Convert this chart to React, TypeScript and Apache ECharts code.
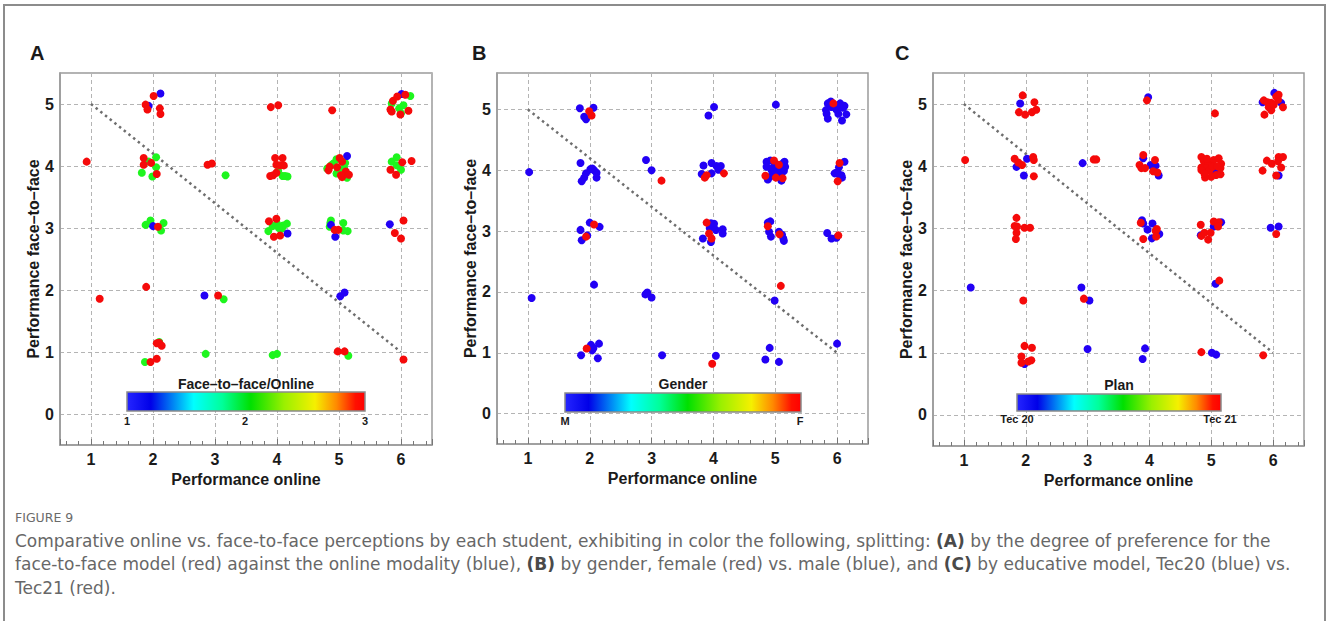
import React, { useEffect, useRef } from "react";
import * as echarts from "echarts";

// ---------- data ----------
const xAxisTitle = "Performance online";
const yAxisTitle = "Performance face–to–face";
const panelLetters = ["A", "B", "C"];
const diagX = [1, 6];
const diagY = [5, 1];

// Panel A: preference Face-to-face/Online (1 = blue, 2 = green, 3 = red)
const aGreen = [
  [6.15, 5.13], [5.85, 5.01], [5.97, 4.93], [6.04, 4.98], [6.0, 4.85],
  [1.93, 4.07], [2.05, 4.14], [2.05, 3.98], [1.82, 3.89], [1.99, 3.83], [3.17, 3.85],
  [4.02, 3.92], [4.09, 3.84], [4.17, 3.83], [4.13, 3.84],
  [4.81, 3.96], [4.87, 4.01], [4.96, 4.11], [4.91, 4.04], [5.08, 3.98], [5.02, 3.88],
  [5.13, 3.81], [4.96, 3.88], [4.99, 3.93], [5.1, 4.05],
  [5.85, 4.07], [5.93, 4.14], [5.93, 4.01], [6.0, 3.94],
  [1.88, 3.05], [1.96, 3.12], [2.17, 3.08], [2.13, 2.96],
  [3.93, 3.03], [4.0, 3.07], [4.05, 3.02], [4.1, 3.04], [4.16, 3.07], [3.86, 2.95], [4.08, 2.99], [4.03, 3.0],
  [4.87, 3.12], [4.85, 3.02], [5.07, 3.08], [5.07, 2.96], [5.14, 2.95], [4.86, 3.08],
  [3.14, 1.85],
  [2.1, 1.16], [1.87, 0.84], [2.85, 0.97], [3.93, 0.95], [4.0, 0.97], [5.15, 0.94],
];
const aBlue = [
  [2.12, 5.17], [1.93, 4.97], [6.01, 5.16], [5.13, 4.16], [2.0, 3.03], [4.17, 2.91],
  [4.87, 3.05], [4.94, 2.86], [5.82, 3.06], [2.83, 1.91], [5.02, 1.9], [5.09, 1.96],
];
const aRed = [
  [2.01, 5.13], [1.88, 4.99], [1.91, 4.91], [2.11, 4.93], [2.12, 4.84], [3.9, 4.95], [4.02, 4.98],
  [4.89, 4.9], [5.87, 5.05], [5.94, 5.12], [6.07, 5.15], [5.83, 4.91], [5.85, 4.88], [5.99, 4.83], [6.12, 4.89],
  [0.93, 4.07], [1.85, 4.13], [1.85, 4.02], [1.97, 4.05], [2.06, 3.87], [2.88, 4.02], [2.95, 4.04],
  [3.97, 4.13], [4.09, 4.13], [3.99, 4.02], [4.05, 4.01], [4.11, 4.01], [3.89, 3.84], [3.94, 3.85], [3.99, 3.89],
  [4.83, 3.93], [5.01, 4.13], [5.05, 4.07], [4.97, 3.98], [5.11, 3.91], [5.05, 3.82], [5.16, 3.86], [4.85, 3.99], [5.03, 3.85],
  [6.02, 4.06], [6.17, 4.08], [5.83, 3.94], [5.92, 3.86],
  [2.08, 3.02], [3.87, 3.11], [3.99, 3.15], [3.95, 2.86], [4.05, 2.88], [4.93, 2.97], [4.99, 2.97],
  [6.04, 3.12], [5.9, 2.92], [6.0, 2.83],
  [1.14, 1.86], [1.89, 2.05], [3.05, 1.91],
  [2.06, 1.14], [2.1, 1.15], [2.14, 1.1], [2.06, 0.89], [1.96, 0.84], [4.98, 1.01], [5.09, 1.01], [6.04, 0.88],
];

// Panel B: gender (M = blue, F = red)
const bBlue = [
  [1.84, 5.02], [2.06, 5.03], [1.91, 4.88], [1.94, 4.84], [4.01, 5.04], [3.92, 4.9], [5.01, 5.08],
  [5.85, 5.1], [5.9, 5.13], [5.98, 5.04], [6.05, 5.1], [6.1, 5.03], [6.15, 4.92], [6.08, 4.82], [5.82, 4.99],
  [5.83, 4.93], [5.85, 4.85], [6.02, 4.93], [5.99, 5.0], [6.04, 5.04], [5.91, 5.04], [6.12, 5.06],
  [1.02, 3.97], [1.85, 4.12], [2.01, 4.02], [2.07, 4.0], [2.11, 3.96], [2.11, 3.88], [1.94, 3.95], [1.91, 3.88],
  [1.87, 3.82], [2.04, 4.03], [2.91, 4.17], [3.0, 4.0], [3.84, 4.08], [3.97, 4.12], [4.05, 4.07], [4.12, 4.07],
  [4.08, 4.01], [3.81, 3.94], [3.97, 3.95],
  [4.86, 4.14], [4.92, 4.16], [5.0, 4.1], [5.05, 4.05], [5.13, 4.12], [5.16, 4.06], [5.07, 3.98], [5.14, 3.99],
  [4.86, 4.06], [4.94, 4.0], [4.99, 3.95], [4.91, 3.89], [4.88, 3.85], [5.1, 3.83], [5.02, 3.89], [5.15, 4.14],
  [4.96, 4.04], [5.08, 3.92],
  [6.12, 4.14], [6.03, 4.05], [5.96, 3.95], [6.02, 3.94], [6.07, 3.92], [6.08, 3.88], [5.99, 3.96],
  [1.85, 3.02], [2.0, 3.14], [2.16, 3.07], [1.96, 2.93], [1.87, 2.85], [3.96, 3.13], [4.01, 3.12], [3.94, 3.05],
  [4.04, 3.02], [4.15, 3.03], [4.15, 2.96], [3.96, 2.82], [3.83, 2.88], [4.88, 3.14], [4.92, 3.16], [4.9, 2.99],
  [4.93, 2.91], [5.06, 2.99], [5.11, 2.94], [5.13, 2.88], [5.14, 2.84], [5.84, 2.97], [5.91, 2.88], [5.99, 2.89],
  [2.07, 2.12], [1.06, 1.9], [2.9, 1.96], [2.93, 1.99], [3.0, 1.91], [4.99, 1.86],
  [2.15, 1.15], [2.02, 1.13], [2.04, 1.04], [2.06, 1.08], [1.86, 0.96], [2.13, 0.91], [3.17, 0.96], [4.04, 0.95],
  [4.91, 1.08], [4.84, 0.89], [5.06, 0.85], [6.0, 1.15],
];
const bRed = [
  [1.99, 4.97], [2.03, 4.9], [5.94, 5.1], [3.16, 3.83], [3.89, 3.92], [3.86, 3.88], [4.17, 3.95], [4.98, 4.16],
  [5.06, 4.09], [4.84, 3.91], [5.01, 3.88], [5.12, 3.87], [6.04, 4.12], [6.01, 3.82], [2.07, 3.11], [1.94, 2.91],
  [3.89, 3.14], [3.93, 2.96], [3.97, 2.88], [4.88, 3.08], [5.07, 2.95], [6.02, 2.93], [5.09, 2.1], [1.95, 1.07],
  [3.98, 0.82],
];

// Panel C: plan (Tec 20 = blue, Tec 21 = red)
const cBlue = [
  [1.91, 5.01], [3.98, 5.11], [5.83, 5.03], [6.02, 5.18], [6.13, 5.02], [1.85, 3.99], [2.02, 4.12], [1.97, 3.85],
  [2.92, 4.05], [3.9, 4.13], [4.02, 4.02], [4.1, 4.01], [4.15, 3.85], [5.05, 3.91], [5.11, 3.95], [4.86, 3.98],
  [6.09, 3.85], [3.88, 3.13], [3.9, 3.08], [4.05, 3.08], [3.97, 2.98], [4.16, 2.91], [4.04, 2.84], [5.04, 3.03],
  [5.16, 3.1], [4.83, 2.89], [5.96, 3.01], [6.09, 3.03], [1.11, 2.05], [2.9, 2.05], [3.03, 1.84], [5.07, 2.11],
  [1.98, 0.82], [3.0, 1.06], [3.93, 1.07], [3.89, 0.9], [5.01, 1.0], [5.08, 0.97],
];
const cRed = [
  [1.95, 5.14], [2.14, 5.03], [1.89, 4.87], [1.99, 4.83], [2.1, 4.87], [2.17, 4.91], [3.96, 5.06], [5.06, 4.85],
  [5.85, 5.06], [5.91, 5.03], [5.97, 5.02], [6.05, 5.12], [6.08, 5.07], [6.16, 4.95], [5.93, 4.95], [5.97, 4.9],
  [5.86, 4.83], [6.01, 4.99], [6.09, 5.15],
  [1.02, 4.1], [1.82, 4.12], [1.88, 4.06], [1.94, 4.02], [2.12, 4.15], [2.13, 4.1], [2.13, 3.84], [3.1, 4.11],
  [3.14, 4.11], [3.9, 4.18], [3.84, 4.02], [3.87, 3.97], [3.93, 3.97], [4.09, 4.1], [4.06, 3.92], [4.13, 3.9],
  [4.84, 4.15], [4.88, 4.08], [4.95, 4.05], [5.04, 4.1], [5.12, 4.13], [5.16, 4.04], [5.15, 3.97], [5.08, 3.86],
  [5.0, 3.83], [4.9, 3.82], [4.84, 3.98], [4.92, 3.97], [4.97, 3.93], [4.84, 3.94], [5.15, 3.87], [4.89, 3.88],
  [5.02, 3.99], [4.93, 4.12], [5.1, 4.0],
  [5.9, 4.09], [5.98, 4.04], [6.09, 4.15], [6.16, 4.15], [6.08, 4.08], [6.13, 3.98], [5.83, 3.93], [6.05, 3.85],
  [1.85, 3.17], [1.82, 3.04], [1.86, 3.03], [1.98, 3.01], [2.07, 3.01], [1.85, 2.93], [1.84, 2.83], [3.86, 3.09],
  [4.1, 2.96], [4.12, 2.99], [4.11, 2.87], [3.9, 2.83], [4.83, 3.06], [5.04, 3.11], [5.12, 3.1], [5.11, 3.03],
  [4.84, 2.88], [4.89, 2.93], [4.99, 2.93], [4.95, 2.82], [6.05, 2.91],
  [1.96, 1.84], [2.94, 1.87], [5.13, 2.16],
  [1.98, 1.11], [2.1, 1.08], [1.93, 0.94], [1.93, 0.84], [2.04, 0.86], [2.09, 0.88], [4.84, 1.01], [5.84, 0.96],
];

const colorbarTitles = ["Face–to–face/Online", "Gender", "Plan"];
const colorbarLabelsA = ["1", "2", "3"];
const colorbarLabelsB = ["M", "F"];
const colorbarLabelsC = ["Tec 20", "Tec 21"];

const figureLabel = "FIGURE 9";
const captionLines = [
  "Comparative online vs. face-to-face perceptions by each student, exhibiting in color the following, splitting: {b|(A)} by the degree of preference for the",
  "face-to-face model (red) against the online modality (blue), {b|(B)} by gender, female (red) vs. male (blue), and {b|(C)} by educative model, Tec20 (blue) vs.",
  "Tec21 (red).",
];

// ---------- styling / layout ----------
const BLUE = "#2200f5";
const RED = "#f50a0a";
const GREEN = "#1ef51e";
const FONT = "'Liberation Sans', Arial, sans-serif";
const CAPFONT = "'DejaVu Sans', sans-serif";

const grids = [
  { left: 60, top: 73, width: 372, height: 372 },
  { left: 497, top: 73, width: 371, height: 371 },
  { left: 933, top: 73, width: 371, height: 373 },
];
const yMaxes = [5.5, 5.6, 5.5];
const letterPos = [[30, 53], [472, 53], [895, 53]];

const jetStops = [
  [0, "#2525ff"], [0.1, "#0000e8"], [0.28, "#00ffff"], [0.4, "#00ff9a"], [0.52, "#00e000"],
  [0.66, "#9af000"], [0.79, "#f5f000"], [0.88, "#ff8a00"], [0.96, "#ff1000"], [1, "#ff0000"],
];

const intLabel = (v: number) => (Math.abs(v - Math.round(v)) < 1e-9 ? String(Math.round(v)) : "");

function colorbar(x: number, y: number, w: number, h: number, title: string, titleY: number,
  labels: { t: string; x: number }[], labelY: number) {
  const els: any[] = [
    {
      type: "rect",
      shape: { x, y, width: w, height: h },
      style: {
        fill: new echarts.graphic.LinearGradient(0, 0, 1, 0,
          jetStops.map(([o, c]) => ({ offset: o as number, color: c as string }))),
        stroke: "#8a8a8a",
        lineWidth: 1.5,
      },
      z: 10,
    },
    {
      type: "text",
      x: x + w / 2,
      y: titleY,
      style: { text: title, font: `bold 14px ${FONT}`, fill: "#1a1a1a", align: "center", verticalAlign: "middle" },
      z: 10,
    },
  ];
  labels.forEach((l) => {
    els.push({
      type: "text",
      x: l.x,
      y: labelY,
      style: { text: l.t, font: `bold 11px ${FONT}`, fill: "#1a1a1a", align: "center", verticalAlign: "middle" },
      z: 10,
    });
  });
  return els;
}

export default function App() {
  const ref = useRef<HTMLDivElement>(null);

  useEffect(() => {
    document.body.style.margin = "0";
    const chart = echarts.init(ref.current!, null, { renderer: "svg" });

    const xAxes = grids.map((_, i) => ({
      type: "value",
      gridIndex: i,
      min: 0.5,
      max: 6.5,
      splitNumber: 6,
      name: xAxisTitle,
      nameLocation: "middle",
      nameGap: 26,
      nameTextStyle: { fontFamily: FONT, fontWeight: "bold", fontSize: 16, color: "#1a1a1a" },
      axisLine: { show: true, onZero: false, lineStyle: { color: "#9a9a9a", width: 1.5 } },
      axisTick: { show: true, inside: true, length: 6, lineStyle: { color: "#777" } },
      minorTick: { show: true, splitNumber: 5, length: 4, lineStyle: { color: "#777" } },
      axisLabel: {
        formatter: intLabel, showMinLabel: false, showMaxLabel: false, margin: 6,
        fontFamily: FONT, fontWeight: "bold", fontSize: 16, color: "#1a1a1a",
      },
      splitLine: { show: true, lineStyle: { type: [4, 3], color: "#b4b4b4", width: 1 } },
    }));
    const yAxes = grids.map((_, i) => ({
      type: "value",
      gridIndex: i,
      min: -0.5,
      max: yMaxes[i],
      splitNumber: 6,
      name: yAxisTitle,
      nameLocation: "middle",
      nameGap: 18,
      nameTextStyle: { fontFamily: FONT, fontWeight: "bold", fontSize: 16, color: "#1a1a1a" },
      axisLine: { show: true, onZero: false, lineStyle: { color: "#9a9a9a", width: 1.5 } },
      axisTick: { show: false },
      axisLabel: {
        formatter: intLabel, showMinLabel: false, showMaxLabel: false, margin: 6,
        fontFamily: FONT, fontWeight: "bold", fontSize: 16, color: "#1a1a1a",
      },
      splitLine: { show: true, lineStyle: { type: [4, 3], color: "#b4b4b4", width: 1 } },
    }));

    const scatter = (data: number[][], color: string, i: number) => ({
      type: "scatter",
      xAxisIndex: i,
      yAxisIndex: i,
      data,
      symbol: "circle",
      symbolSize: 8,
      itemStyle: { color, opacity: 1 },
      z: 3,
    });
    const diag = (i: number) => ({
      type: "line",
      xAxisIndex: i,
      yAxisIndex: i,
      data: diagX.map((x, k) => [x, diagY[k]]),
      symbol: "none",
      lineStyle: { color: "#6e6e6e", width: 2.5, type: [2.5, 3.5] },
      z: 2,
    });

    const graphics: any[] = [
      {
        type: "rect",
        shape: { x: 4, y: 5, width: 1321, height: 640 },
        style: { fill: "none", stroke: "#8c8c8c", lineWidth: 2 },
        silent: true,
      },
    ];
    panelLetters.forEach((L, i) => {
      graphics.push({
        type: "text",
        x: letterPos[i][0],
        y: letterPos[i][1],
        style: { text: L, font: `bold 20px ${FONT}`, fill: "#1a1a1a", align: "left", verticalAlign: "middle" },
      });
    });
    graphics.push(
      ...colorbar(127, 392, 238, 19, colorbarTitles[0], 384,
        [{ t: colorbarLabelsA[0], x: 127 }, { t: colorbarLabelsA[1], x: 245 }, { t: colorbarLabelsA[2], x: 365 }], 421),
      ...colorbar(565, 393, 236, 19, colorbarTitles[1], 384,
        [{ t: colorbarLabelsB[0], x: 565 }, { t: colorbarLabelsB[1], x: 800 }], 421),
      ...colorbar(1017, 394, 204, 17, colorbarTitles[2], 385,
        [{ t: colorbarLabelsC[0], x: 1017 }, { t: colorbarLabelsC[1], x: 1220 }], 419),
    );
    graphics.push({
      type: "text",
      x: 15,
      y: 517,
      style: { text: figureLabel, font: `12.5px ${CAPFONT}`, fill: "#6a6a6a", align: "left", verticalAlign: "middle" },
    });
    captionLines.forEach((line, k) => {
      graphics.push({
        type: "text",
        x: 15,
        y: 540.5 + k * 23.5,
        style: {
          text: line,
          font: `17px ${CAPFONT}`,
          fill: "#676767",
          align: "left",
          verticalAlign: "middle",
          rich: {
            b: { fontFamily: CAPFONT, fontSize: 17, fontWeight: "bold", fill: "#4a4a4a" },
          },
        },
      });
    });

    chart.setOption({
      animation: false,
      backgroundColor: "#ffffff",
      grid: grids.map((g) => ({ ...g, show: true, borderColor: "#9a9a9a", borderWidth: 1.5, backgroundColor: "transparent" })),
      xAxis: xAxes,
      yAxis: yAxes,
      series: [
        diag(0), scatter(aGreen, GREEN, 0), scatter(aBlue, BLUE, 0), scatter(aRed, RED, 0),
        diag(1), scatter(bBlue, BLUE, 1), scatter(bRed, RED, 1),
        diag(2), scatter(cBlue, BLUE, 2), scatter(cRed, RED, 2),
      ],
      graphic: graphics,
    });

    return () => chart.dispose();
  }, []);

  return <div ref={ref} style={{ width: 1328, height: 621, position: "absolute", left: 0, top: 0 }} />;
}
